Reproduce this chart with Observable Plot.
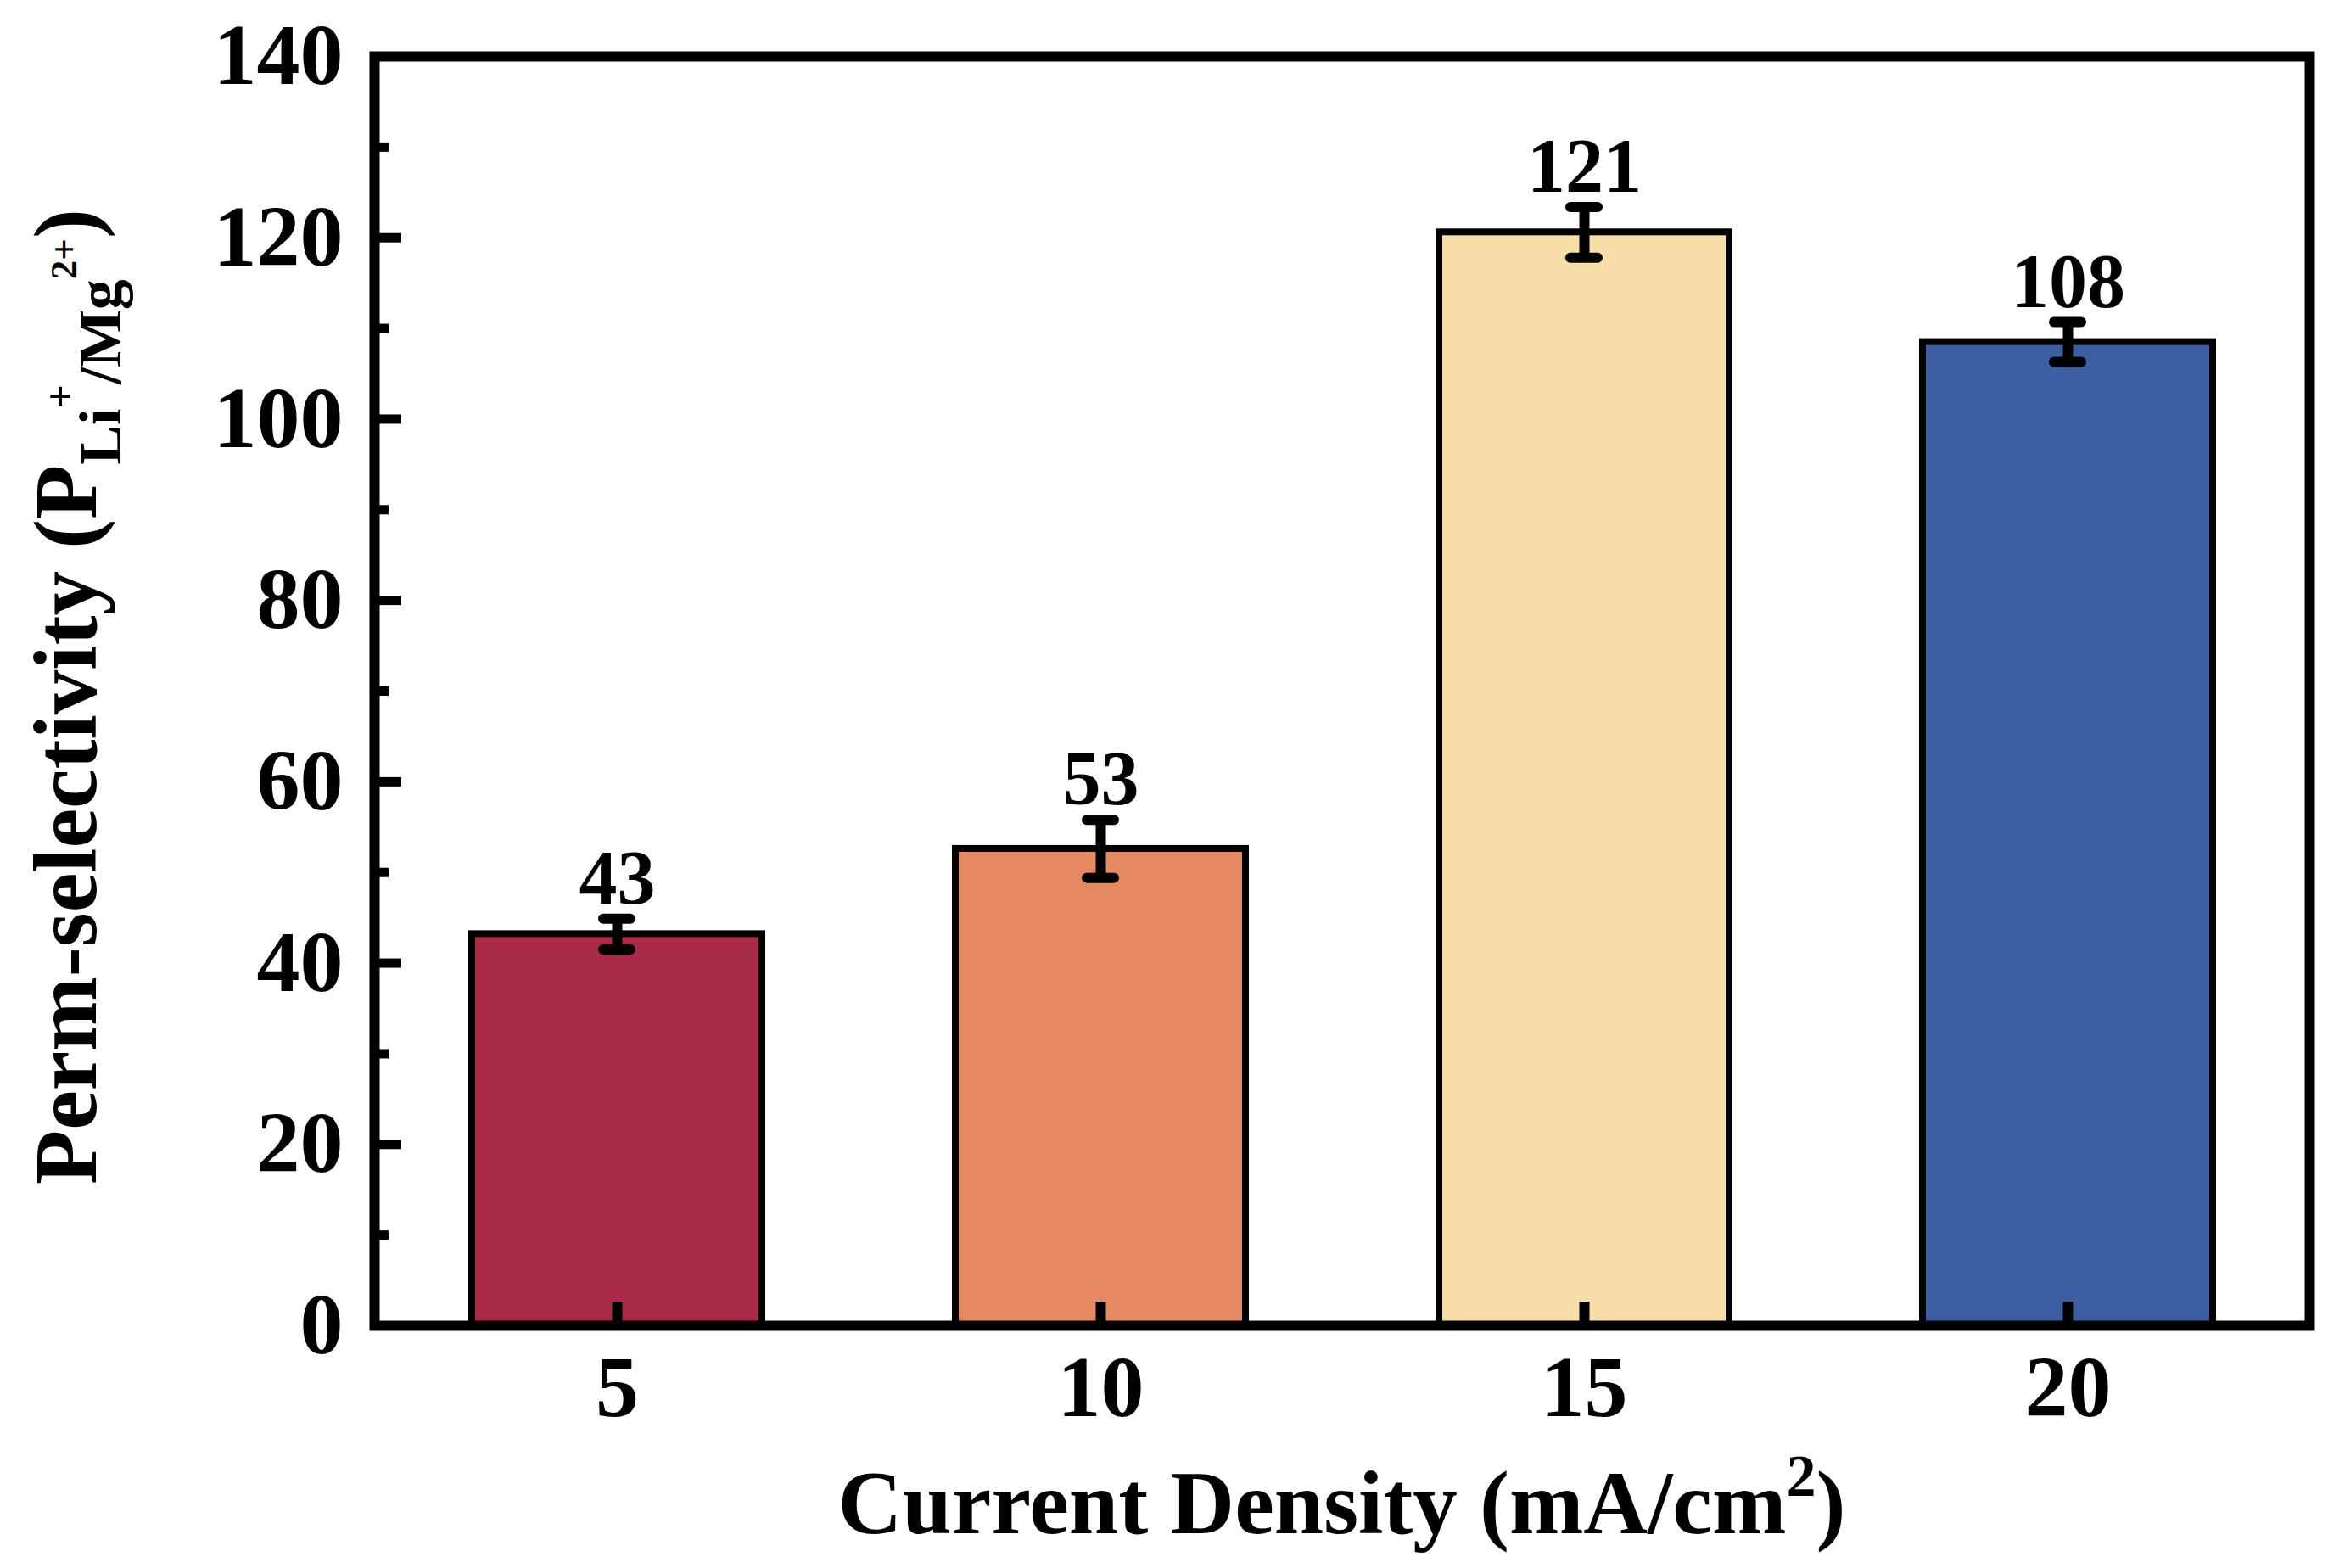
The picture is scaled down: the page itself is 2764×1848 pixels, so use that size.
<!DOCTYPE html>
<html>
<head>
<meta charset="utf-8">
<script src="https://cdn.jsdelivr.net/npm/d3@7"></script>
<script src="https://cdn.jsdelivr.net/npm/@observablehq/plot@0.6"></script>
<style>
  html, body { margin: 0; padding: 0; background: #fff; }
  svg text { font-family: "Liberation Serif", "Times New Roman", serif; font-weight: bold; }
</style>
</head>
<body>
<div id="chart"></div>
<script>
// ---- data ----
const categories = ["5", "10", "15", "20"];
const values = [43.2, 52.6, 120.6, 108.5];
const errors = [1.7, 3.2, 2.8, 2.2];
const valueLabels = ["43", "53", "121", "108"];
const barColors = ["#A92B47", "#E58963", "#F7DEA6", "#3E5EA4"];
const yTicks = [0, 20, 40, 60, 80, 100, 120, 140];
const yMinorTicks = [10, 30, 50, 70, 90, 110, 130];

const data = categories.map((c, i) => ({
  cat: c, value: values[i], err: errors[i], label: valueLabels[i], color: barColors[i]
}));

const W = 2764, H = 1848;
const mL = 441, mR = 42, mT = 66, mB = 286;
const fw = W - mL - mR, fh = H - mT - mB;

const chart = Plot.plot({
  width: W, height: H,
  marginLeft: mL, marginRight: mR, marginTop: mT, marginBottom: mB,
  style: { fontFamily: "Liberation Serif", fontWeight: "bold", background: "#fff", color: "#000" },
  x: { domain: categories, paddingInner: 0.4, paddingOuter: 0.2, label: null },
  y: { domain: [0, 140], label: null },
  color: { type: "identity" },
  marks: [
    Plot.barY(data, { x: "cat", y: "value", fill: "color", stroke: "#000", strokeWidth: 8 }),
    Plot.ruleX(data, { x: "cat", y1: d => d.value - d.err, y2: d => d.value + d.err, stroke: "#000", strokeWidth: 12 }),
    Plot.tickY(data, { x: "cat", y: d => d.value + d.err, stroke: "#000", strokeWidth: 12, strokeLinecap: "round", insetLeft: 155, insetRight: 155 }),
    Plot.tickY(data, { x: "cat", y: d => d.value - d.err, stroke: "#000", strokeWidth: 12, strokeLinecap: "round", insetLeft: 155, insetRight: 155 }),
    Plot.text(data, { x: "cat", y: d => d.value + d.err, text: "label", lineAnchor: "bottom", dy: -18, fontSize: 90, fontWeight: "bold", fill: "#000" }),
    Plot.ruleY(yTicks, { y: d => d, insetRight: fw - 32, stroke: "#000", strokeWidth: 11 }),
    Plot.ruleY(yMinorTicks, { y: d => d, insetRight: fw - 17, stroke: "#000", strokeWidth: 11 }),
    Plot.tickX(categories, { x: d => d, insetTop: fh - 28, stroke: "#000", strokeWidth: 12 }),
    Plot.axisY({ ticks: yTicks, tickSize: 0, tickPadding: 37, fontSize: 102, fontWeight: "bold", label: null }),
    Plot.axisX({ tickSize: 0, tickPadding: 34, fontSize: 102, fontWeight: "bold", label: null }),
    Plot.frame({ stroke: "#000", strokeWidth: 12 })
  ]
});

document.getElementById("chart").appendChild(chart);

const svg = d3.select(chart);

// x-axis title
const xt = svg.append("text")
  .attr("x", mL + fw / 2).attr("y", 1807)
  .attr("text-anchor", "middle")
  .attr("font-size", 105).attr("font-weight", "bold").attr("fill", "#000");
xt.append("tspan").text("Current Density (mA/cm");
xt.append("tspan").attr("font-size", 70).attr("dy", -44).text("2");
xt.append("tspan").attr("dy", 44).text(")");

// y-axis title
const yt = svg.append("text")
  .attr("transform", `translate(113, 1396) rotate(-90)`)
  .attr("text-anchor", "start")
  .attr("font-size", 105).attr("font-weight", "bold").attr("fill", "#000");
yt.append("tspan").text("Perm-selectivity (P");
yt.append("tspan").attr("font-size", 70).attr("dy", 29).text("Li");
yt.append("tspan").attr("font-size", 50).attr("dy", -54).text("+");
yt.append("tspan").attr("font-size", 72).attr("dy", 54).text("/Mg");
yt.append("tspan").attr("font-size", 45).attr("dy", -52).text("2+");
yt.append("tspan").attr("font-size", 105).attr("dy", 23).text(")");
</script>
</body>
</html>
